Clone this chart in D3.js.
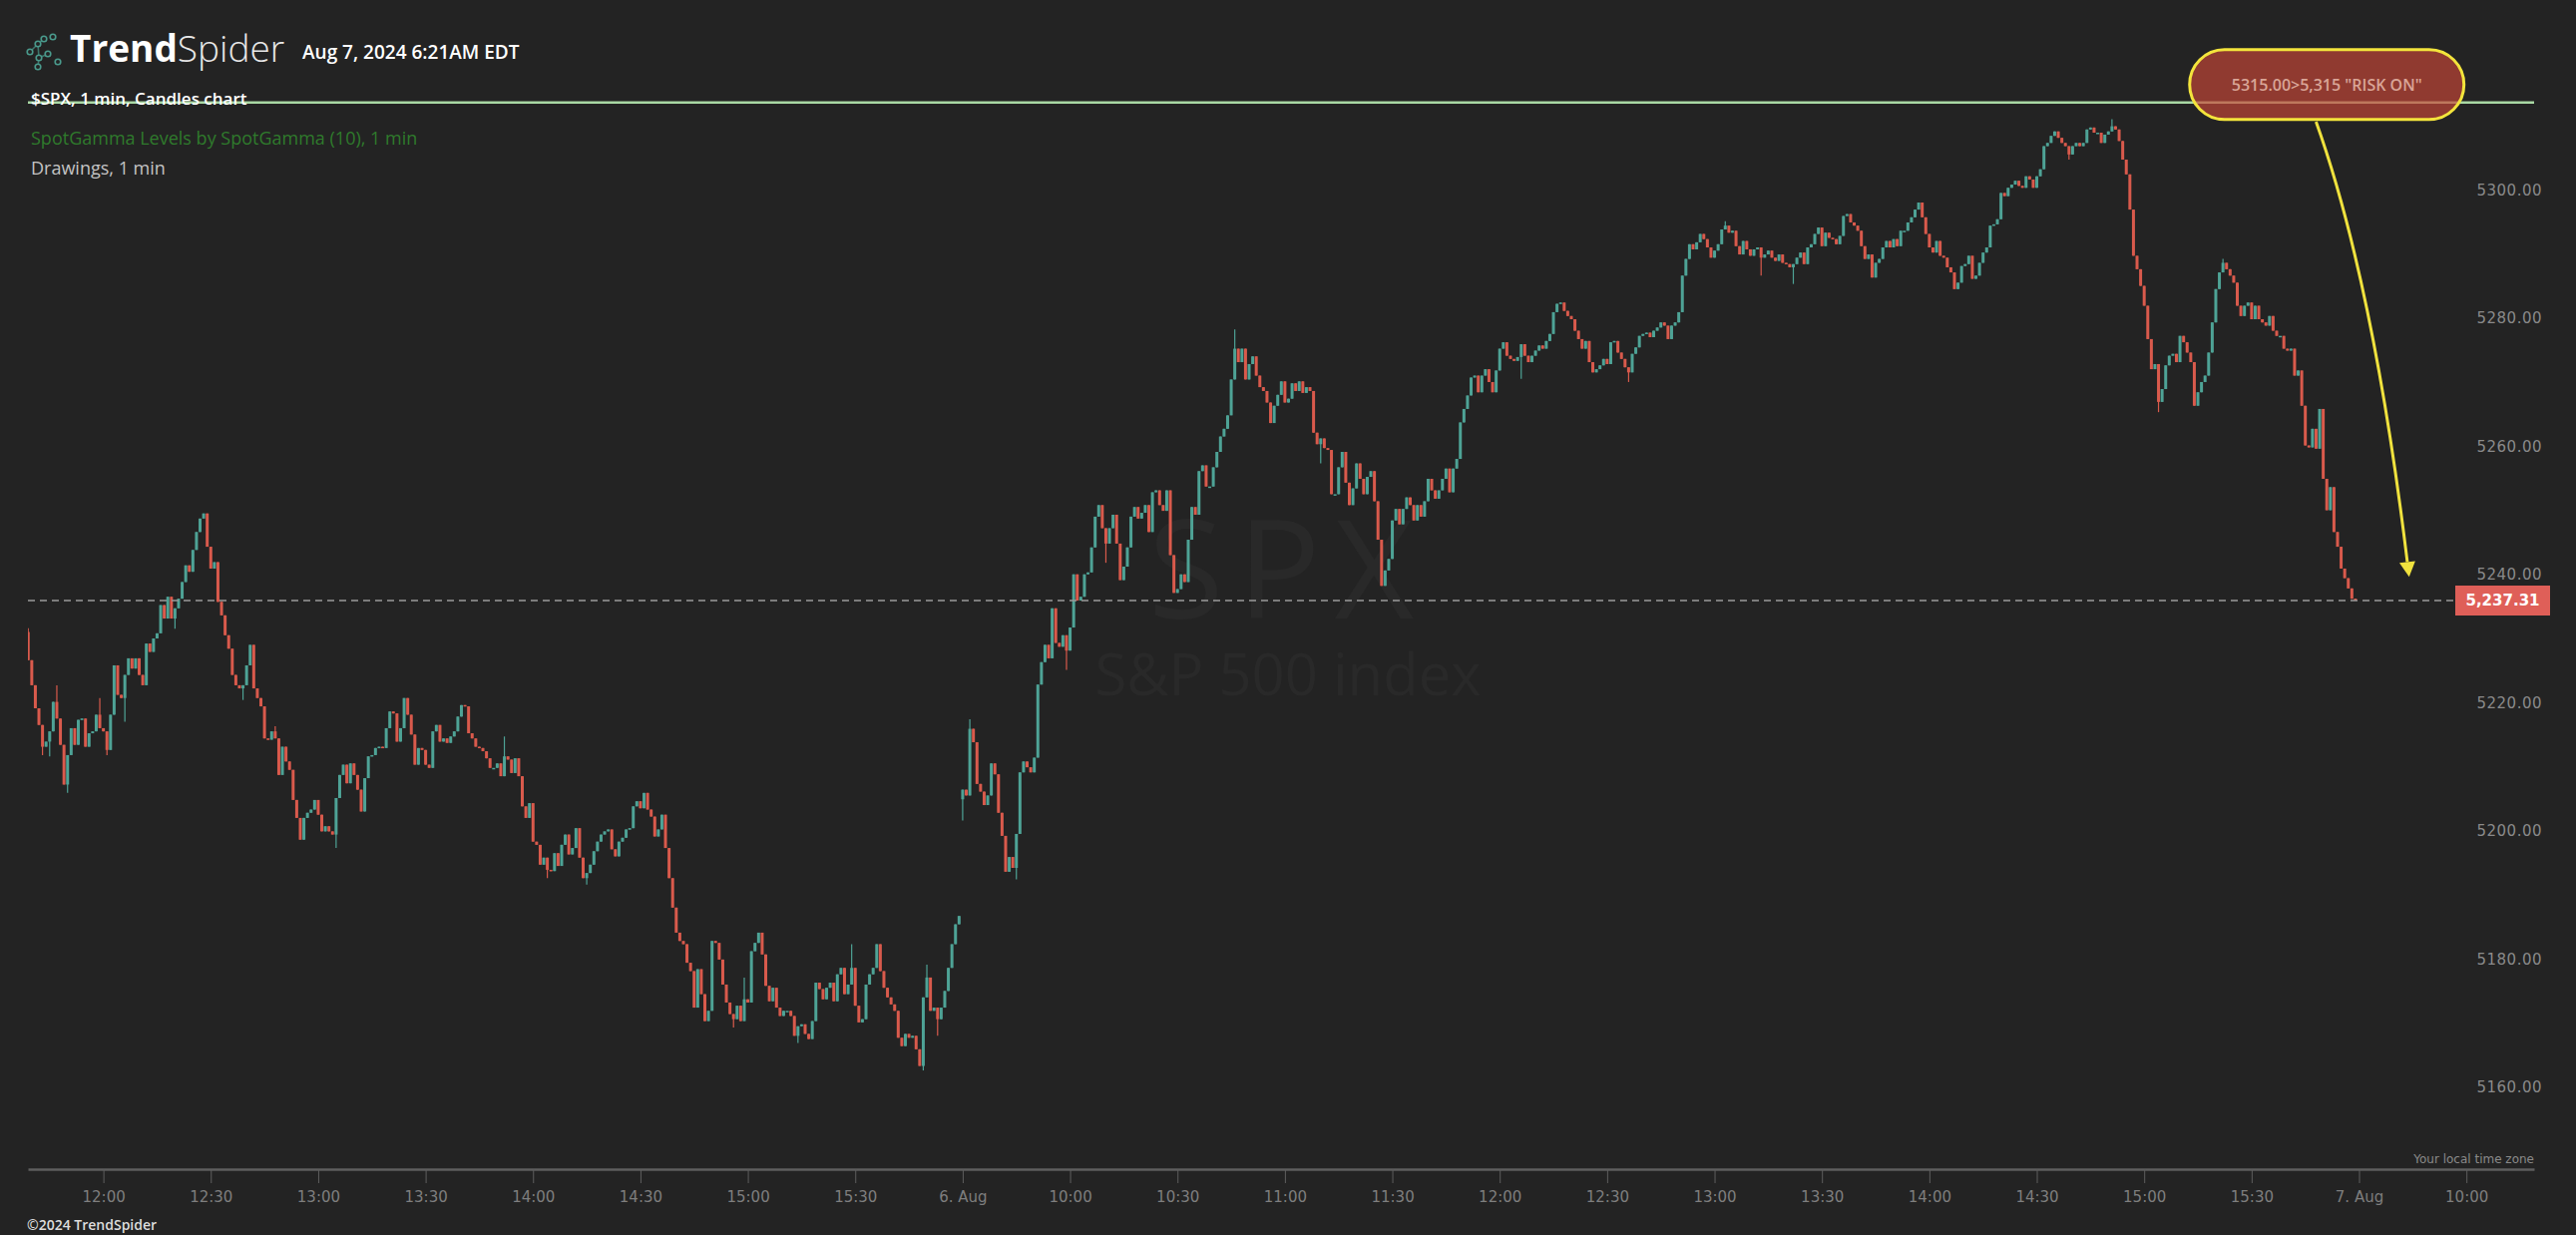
<!DOCTYPE html>
<html><head><meta charset="utf-8">
<script src="https://cdn.jsdelivr.net/npm/d3@7/dist/d3.min.js"></script>
<style>
html,body{margin:0;padding:0;background:#232323;overflow:hidden;}
svg{display:block;}
</style></head><body>
<svg id="chart" width="2582" height="1238"></svg>
<script>
// ---------- DATA ----------
// 1-minute closes of $SPX, Aug 5 2024 from 11:39, and Aug 6 2024 from 09:30
const aug5Close = [
5228.0,5224.1,5220.5,5217.9,5214.5,5215.3,5216.9,5221.5,5218.9,5214.8,
5208.6,5213.2,5217.4,5214.8,5218.7,5218.9,5214.5,5216.6,5216.9,5219.5,
5217.4,5216.9,5214.0,5219.5,5227.2,5222.6,5222.1,5225.7,5228.3,5226.7,
5228.3,5225.7,5224.1,5230.6,5229.3,5231.4,5232.2,5236.6,5234.5,5237.9,
5234.5,5236.1,5237.6,5240.2,5242.8,5241.8,5245.2,5248.0,5250.1,5250.9,
5245.7,5242.3,5243.3,5237.1,5235.0,5231.9,5229.8,5225.7,5224.1,5223.6,
5224.1,5227.2,5230.4,5223.6,5222.1,5220.8,5215.8,5215.6,5216.9,5215.8,
5210.1,5214.5,5212.2,5210.9,5206.2,5203.4,5200.0,5203.4,5204.2,5204.7,
5206.2,5203.9,5201.3,5202.1,5201.3,5200.8,5206.5,5210.1,5211.7,5208.8,
5211.9,5210.1,5207.8,5204.4,5209.6,5213.0,5213.2,5214.3,5214.5,5214.3,
5217.4,5220.0,5219.7,5215.3,5217.4,5222.1,5219.5,5216.4,5211.7,5214.3,
5214.0,5211.7,5211.2,5216.9,5217.9,5215.3,5215.8,5215.1,5216.1,5216.9,
5219.2,5221.0,5220.8,5216.6,5215.8,5214.5,5214.3,5213.8,5212.7,5211.2,
5211.2,5211.9,5209.9,5213.0,5212.5,5210.4,5212.7,5209.9,5205.2,5203.4,
5205.7,5199.7,5199.2,5196.1,5197.2,5195.3,5195.1,5197.9,5195.9,5199.2,
5200.8,5197.7,5198.7,5201.8,5197.2,5194.0,5194.8,5196.1,5198.2,5199.7,
5200.8,5201.3,5201.6,5198.5,5197.4,5199.7,5200.3,5201.6,5201.8,5205.2,
5206.0,5204.9,5207.3,5204.7,5203.6,5200.5,5201.6,5203.9,5198.7,5194.0,
5189.4,5185.5,5184.2,5183.7,5180.8,5179.5,5173.8,5179.8,5175.9,5171.7,
5173.3,5184.2,5183.9,5181.3,5177.4,5174.6,5172.8,5172.0,5174.1,5171.7,
5175.1,5174.6,5182.6,5183.9,5185.5,5182.1,5177.2,5174.8,5176.9,5173.8,
5172.5,5173.3,5173.3,5172.5,5169.4,5170.9,5171.2,5169.7,5168.9,5171.7,
5177.7,5176.7,5175.1,5176.9,5177.7,5174.8,5179.0,5180.0,5175.9,5177.4,
5180.0,5174.1,5171.5,5172.0,5177.4,5179.0,5180.0,5183.7,5179.5,5176.9,
5175.4,5174.3,5173.3,5169.1,5167.8,5169.7,5169.1,5169.4,5167.3,5164.7,
5175.4,5178.5,5173.3,5173.8,5172.0,5173.8,5176.4,5180.0,5183.7,5186.8,
5188.1
];
const aug6Close = [
5207.8,5206.9,5217.3,5215.2,5208.7,5207.5,5205.4,5206.9,5211.9,5210.2,
5204.2,5200.6,5195.0,5197.3,5195.6,5200.9,5210.5,5212.2,5211.3,5210.5,
5212.8,5224.2,5227.7,5230.4,5228.3,5236.1,5230.7,5230.1,5231.9,5229.5,
5233.1,5241.4,5237.3,5237.9,5241.4,5241.7,5245.6,5250.4,5252.2,5248.6,
5246.2,5248.6,5250.7,5246.2,5240.5,5242.6,5245.6,5250.4,5251.9,5250.1,
5251.0,5252.2,5248.0,5254.2,5254.5,5252.2,5251.3,5254.5,5244.4,5238.5,
5239.1,5241.4,5240.2,5246.8,5251.9,5250.7,5257.5,5258.4,5255.1,5255.1,
5258.1,5260.5,5262.9,5264.1,5266.2,5271.8,5276.6,5274.5,5276.6,5271.8,
5274.2,5275.4,5272.4,5270.6,5270.0,5268.2,5265.0,5267.7,5269.4,5271.5,
5268.2,5268.8,5271.2,5270.0,5271.5,5269.7,5270.6,5270.0,5263.5,5261.7,
5262.6,5261.1,5260.8,5253.9,5253.9,5258.1,5260.5,5255.7,5252.2,5254.8,
5258.7,5256.3,5253.9,5256.6,5257.5,5252.8,5246.8,5239.6,5242.0,5243.8,
5249.8,5251.6,5249.2,5251.6,5253.4,5252.2,5249.8,5252.2,5250.4,5252.8,
5256.3,5254.5,
5253.2,5254.5,5256.3,5257.9,5254.2,5257.9,5259.4,5265.1,5267.2,5269.3,
5272.1,5272.4,5269.8,5272.4,5273.4,5271.4,5269.8,5273.2,5276.6,5277.6,
5275.5,5275.0,5274.7,5275.3,5277.3,5275.5,5274.5,5275.5,5276.3,5277.1,
5276.6,5277.8,5278.9,5282.3,5283.6,5283.8,5282.5,5281.7,5281.2,5279.4,
5278.1,5276.6,5277.8,5274.5,5272.9,5273.4,5274.0,5275.0,5274.2,5277.6,
5277.8,5276.0,5275.0,5273.7,5272.9,5275.8,5276.8,5278.6,5278.9,5279.1,
5278.4,5279.4,5279.9,5280.7,5280.2,5278.1,5280.2,5280.7,5282.3,5288.0,
5290.6,5292.9,5292.1,5293.2,5294.5,5293.7,5292.4,5290.8,5291.9,5292.9,
5295.2,5295.8,5294.7,5295.0,5292.6,5291.3,5293.4,5292.1,5291.1,5292.1,
5292.4,5290.8,5291.3,5291.9,5290.8,5290.3,5291.3,5290.0,5289.8,5289.3,
5289.8,5290.8,5291.6,5289.8,5292.4,5292.9,5294.5,5295.5,5292.6,5294.7,
5293.9,5293.7,5292.9,5294.2,5297.3,5297.6,5296.3,5295.8,5295.0,5292.6,
5290.6,5291.3,5287.7,5290.0,5290.6,5292.4,5293.4,5292.4,5293.7,5292.6,
5295.0,
5295.0,5296.3,5297.1,5298.3,5299.4,5297.1,5294.5,5292.4,5291.6,5293.4,
5291.1,5290.8,5289.3,5288.5,5285.9,5286.9,5289.5,5289.8,5291.1,5287.5,
5288.0,5290.0,5291.6,5292.4,5295.8,5296.0,5296.8,5300.9,5300.4,5301.7,
5302.2,5302.8,5302.0,5301.7,5303.5,5303.0,5301.7,5303.5,5304.6,5308.2,
5308.7,5309.8,5310.5,5309.5,5308.7,5308.2,5306.9,5308.2,5308.7,5308.2,
5308.7,5310.8,5311.1,5310.3,5310.3,5308.7,5310.0,5310.5,5311.3,5310.8,
5309.0,5306.1,5303.8,5298.3,5291.1,5289.0,5286.4,5283.3,5278.1,5273.4,
5274.2,5268.3,5270.3,5274.0,5275.5,5275.8,5274.5,5278.6,5277.6,5276.0,
5274.5,5267.7,5269.8,5271.4,5272.4,5276.0,5280.7,5285.9,5288.5,5290.0,
5289.0,5288.0,5286.9,5283.3,5281.7,5283.3,5283.8,5281.2,5283.3,5281.2,
5280.7,5280.2,5281.7,5279.4,5278.6,5278.6,5276.6,5276.3,5276.6,5272.4,
5273.2,5267.7,5261.5,5261.2,5264.1,5261.0,5267.2,5256.3,5251.4,5255.0,
5248.0,5245.7,5242.3,5240.8,5239.2,5237.6,5237.31
];
const sessionDays = ["08-05", "08-06", "08-07"];
const sessionStart = {"08-05": "11:39", "08-06": "09:30"};
const sessionOpen = {"08-05": 5232.4, "08-06": 5206.3};

// notable wicks (high / low)
const wickTime = ["08-05 11:39","08-05 11:43","08-05 11:45","08-05 11:47","08-05 11:50","08-05 11:59","08-05 12:01","08-05 12:06","08-05 12:20","08-05 12:39","08-05 12:48","08-05 13:05","08-05 13:52","08-05 14:04","08-05 14:15","08-05 14:56","08-05 14:59","08-05 15:14","08-05 15:29","08-05 15:49","08-05 15:50","08-05 15:53","08-06 09:30","08-06 09:32","08-06 09:45","08-06 09:59","08-06 10:10","08-06 10:46","08-06 11:10","08-06 12:06","08-06 12:36","08-06 13:03","08-06 13:13","08-06 13:22","08-06 14:39","08-06 14:51","08-06 15:04","08-06 15:22"];
const wickHigh = [5233.0,null,null,5224.1,null,5222.1,null,null,null,null,5217.7,null,5216.1,null,null,null,5178.5,null,5183.7,null,5180.5,null,null,5218.8,null,null,null,5279.6,null,null,null,5296.5,null,null,null,5312.4,null,5290.6];
const wickLow  = [null,5213.2,5213.0,null,5207.3,null,5213.2,5218.4,5232.9,5221.8,null,5198.7,null,5194.0,5193.0,5170.7,null,5168.3,null,5164.0,null,5169.4,5203.0,null,5193.8,5226.5,5243.2,null,5258.7,5271.9,5271.4,null,5288.0,5286.7,5306.1,null,5266.7,null];

const yTicks = [5160, 5180, 5200, 5220, 5240, 5260, 5280, 5300];
const xTickTimes = ["08-05 12:00","08-05 12:30","08-05 13:00","08-05 13:30","08-05 14:00","08-05 14:30","08-05 15:00","08-05 15:30","08-06 09:30","08-06 10:00","08-06 10:30","08-06 11:00","08-06 11:30","08-06 12:00","08-06 12:30","08-06 13:00","08-06 13:30","08-06 14:00","08-06 14:30","08-06 15:00","08-06 15:30","08-07 09:30","08-07 10:00"];
const xTickLabels = ["12:00","12:30","13:00","13:30","14:00","14:30","15:00","15:30","6. Aug","10:00","10:30","11:00","11:30","12:00","12:30","13:00","13:30","14:00","14:30","15:00","15:30","7. Aug","10:00"];

const riskOnLevel = 5315;
const riskOnText = '5315.00>5,315 "RISK ON"';
const riskOnAnchor = "08-06 15:51";
const arrowStart = ["08-06 15:48", 5312];
const arrowCtrl  = ["08-07 09:34", 5287];
const arrowEnd   = ["08-07 09:44", 5241];
const lastPrice = aug6Close[aug6Close.length - 1];

// ---------- CHART ----------
const svg = d3.select("#chart");
const plotLeft = 28, plotRight = 2540, plotTop = 0, plotBottom = 1172;
const SESSION = 390;
const UP = "#4ea396", DOWN = "#d95a4c";

function idx(stamp) {
  const [d, t] = stamp.split(" ");
  const [h, m] = t.split(":").map(Number);
  return sessionDays.indexOf(d) * SESSION + (h * 60 + m - 570);
}

const x = d3.scaleLinear().domain([128.93, 828.9]).range([plotLeft, plotRight]);
const y = d3.scaleLinear().domain([5148.6, 5331.0]).range([plotBottom, plotTop]);

// build candles
const wickMap = new Map();
wickTime.forEach((t, k) => wickMap.set(idx(t), {h: wickHigh[k], l: wickLow[k]}));
const candles = [];
[["08-05", aug5Close], ["08-06", aug6Close]].forEach(([day, closes]) => {
  const start = idx(day + " " + sessionStart[day]);
  closes.forEach((c, k) => {
    const o = k === 0 ? sessionOpen[day] : closes[k - 1];
    const i = start + k;
    const w = wickMap.get(i) || {};
    const h = Math.max(o, c, w.h == null ? -Infinity : w.h);
    const l = Math.min(o, c, w.l == null ? Infinity : w.l);
    candles.push({i, o, h, l, c});
  });
});

svg.append("defs").append("clipPath").attr("id", "plotClip")
  .append("rect").attr("x", plotLeft).attr("y", plotTop)
  .attr("width", plotRight - plotLeft).attr("height", plotBottom - plotTop);

// watermark
const wmX = 1291;
svg.append("text").attr("x", wmX).attr("y", 620).attr("text-anchor", "middle")
  .attr("font-family", "Open Sans, sans-serif").attr("font-size", 138).attr("letter-spacing", 14)
  .attr("fill", "#292929").text("SPX");
svg.append("text").attr("x", wmX).attr("y", 697).attr("text-anchor", "middle")
  .attr("font-family", "Open Sans, sans-serif").attr("font-size", 58)
  .attr("fill", "#292929").text("S&P 500 index");

// header
const logo = svg.append("g").attr("stroke", "#4a9a8c").attr("fill", "none").attr("stroke-width", 1.6);
const logoPts = [[30,52],[38,44],[44,39],[53,37],[39,58],[48,54],[58,62],[38,67]];
[[0,1],[1,2],[1,4],[4,5],[4,7]].forEach(([a,b]) => {
  logo.append("line").attr("x1", logoPts[a][0]).attr("y1", logoPts[a][1]).attr("x2", logoPts[b][0]).attr("y2", logoPts[b][1]).attr("opacity", 0.7);
});
logoPts.forEach(p => logo.append("circle").attr("cx", p[0]).attr("cy", p[1]).attr("r", 2.8).attr("fill", "#232323"));

const brand = svg.append("text").attr("x", 70).attr("y", 62)
  .attr("font-family", "Open Sans, sans-serif").attr("font-size", 37).attr("fill", "#ffffff");
brand.append("tspan").attr("font-weight", 700).text("Trend");
brand.append("tspan").attr("font-weight", 300).attr("fill", "#e8e8e8").text("Spider");
svg.append("text").attr("x", 303).attr("y", 59)
  .attr("font-family", "Open Sans, sans-serif").attr("font-size", 19).attr("font-weight", 600)
  .attr("fill", "#ffffff").text("Aug 7, 2024 6:21AM EDT");

// level line (drawing) at 5315
svg.append("line").attr("x1", plotLeft).attr("x2", plotRight)
  .attr("y1", y(riskOnLevel)).attr("y2", y(riskOnLevel))
  .attr("stroke", "#a9d8a4").attr("stroke-width", 2.5);

svg.append("text").attr("x", 31).attr("y", 105)
  .attr("font-family", "Open Sans, sans-serif").attr("font-size", 17).attr("font-weight", 600)
  .attr("fill", "#ffffff").text("$SPX, 1 min, Candles chart");
svg.append("text").attr("x", 31).attr("y", 145)
  .attr("font-family", "Open Sans, sans-serif").attr("font-size", 18)
  .attr("fill", "#2f7a2c").text("SpotGamma Levels by SpotGamma (10), 1 min");
svg.append("text").attr("x", 31).attr("y", 175)
  .attr("font-family", "Open Sans, sans-serif").attr("font-size", 18)
  .attr("fill", "#c4c4c4").text("Drawings, 1 min");

// candles
const cg = svg.append("g").attr("clip-path", "url(#plotClip)");
cg.selectAll("line.wick").data(candles).join("line").attr("class", "wick")
  .attr("x1", d => x(d.i)).attr("x2", d => x(d.i))
  .attr("y1", d => y(d.h)).attr("y2", d => y(d.l))
  .attr("stroke", d => d.c >= d.o ? UP : DOWN).attr("stroke-width", 1.2);
cg.selectAll("rect.body").data(candles).join("rect").attr("class", "body")
  .attr("x", d => x(d.i) - 1.5).attr("width", 3.0)
  .attr("y", d => y(Math.max(d.o, d.c)))
  .attr("height", d => Math.max(1.5, Math.abs(y(d.o) - y(d.c))))
  .attr("fill", d => d.c >= d.o ? UP : DOWN);

// last price dashed line + label
const lpY = y(lastPrice);
svg.append("line").attr("x1", plotLeft).attr("x2", 2461).attr("y1", lpY).attr("y2", lpY)
  .attr("stroke", "#9a9a9a").attr("stroke-width", 1.5).attr("stroke-dasharray", "7,5");

// y axis labels
const yAxis = d3.axisLeft(y).tickValues(yTicks).tickFormat(d3.format(".2f")).tickSize(0).tickPadding(0);
const yg = svg.append("g").attr("transform", "translate(2548,0)").call(yAxis);
yg.select(".domain").remove();
yg.selectAll("text").attr("fill", "#8a8a8a").attr("font-family", "DejaVu Sans, sans-serif")
  .attr("font-size", 15).attr("letter-spacing", 0.5).attr("y", -9);

svg.append("rect").attr("x", 2461).attr("y", lpY - 15).attr("width", 95).attr("height", 30)
  .attr("fill", "#df5f58");
svg.append("text").attr("x", 2508.5).attr("y", lpY + 5.5).attr("text-anchor", "middle")
  .attr("font-family", "DejaVu Sans, sans-serif").attr("font-weight", 700).attr("font-size", 15)
  .attr("fill", "#ffffff").text(d3.format(",.2f")(lastPrice));

// x axis
const xAxis = d3.axisBottom(x).tickValues(xTickTimes.map(idx))
  .tickFormat((d, k) => xTickLabels[k]).tickSize(14).tickSizeOuter(0).tickPadding(8);
const xg = svg.append("g").attr("transform", `translate(0,${plotBottom})`).call(xAxis);
xg.select(".domain").attr("stroke", "#5e5e5e").attr("stroke-width", 2.5);
xg.selectAll(".tick line").attr("stroke", "#5e5e5e");
xg.selectAll("text").attr("fill", "#7e7e7e").attr("font-family", "DejaVu Sans, sans-serif").attr("font-size", 15);

svg.append("text").attr("x", plotRight).attr("y", 1166).attr("text-anchor", "end")
  .attr("font-family", "DejaVu Sans, sans-serif").attr("font-size", 12)
  .attr("fill", "#8a8a8a").text("Your local time zone");
svg.append("text").attr("x", 27).attr("y", 1233)
  .attr("font-family", "Open Sans, sans-serif").attr("font-size", 14).attr("font-weight", 600)
  .attr("fill", "#dddddd").text("©2024 TrendSpider");

// arrow drawing
const p0 = [x(idx(arrowStart[0])), y(arrowStart[1])];
const pc = [x(idx(arrowCtrl[0])), y(arrowCtrl[1])];
const p1 = [x(idx(arrowEnd[0])), y(arrowEnd[1])];
const ang = Math.atan2(p1[1] - pc[1], p1[0] - pc[0]);
const headLen = 15, headW = 8;
const base = [p1[0] - headLen * Math.cos(ang), p1[1] - headLen * Math.sin(ang)];
const ap = d3.path(); ap.moveTo(p0[0], p0[1]); ap.quadraticCurveTo(pc[0], pc[1], base[0], base[1]);
svg.append("path").attr("d", ap.toString()).attr("fill", "none")
  .attr("stroke", "#f0e23e").attr("stroke-width", 3);
const nx = -Math.sin(ang), ny = Math.cos(ang);
svg.append("path").attr("d", `M${p1[0]},${p1[1]} L${base[0] + nx * headW},${base[1] + ny * headW} L${base[0] - nx * headW},${base[1] - ny * headW} Z`)
  .attr("fill", "#f0e23e");

// RISK ON label box
const boxCX = x(idx(riskOnAnchor)), boxCY = y(riskOnLevel) - 18, boxW = 275, boxH = 70;
svg.append("rect").attr("x", boxCX - boxW / 2).attr("y", boxCY - boxH / 2)
  .attr("width", boxW).attr("height", boxH).attr("rx", 35).attr("ry", 35)
  .attr("fill", "rgba(200,70,55,0.66)").attr("stroke", "#f3e43c").attr("stroke-width", 3);
svg.append("text").attr("x", boxCX).attr("y", boxCY + 6).attr("text-anchor", "middle")
  .attr("font-family", "Open Sans, sans-serif").attr("font-size", 16).attr("font-weight", 600)
  .attr("fill", "#d9a597").text(riskOnText);
</script>
</body></html>
